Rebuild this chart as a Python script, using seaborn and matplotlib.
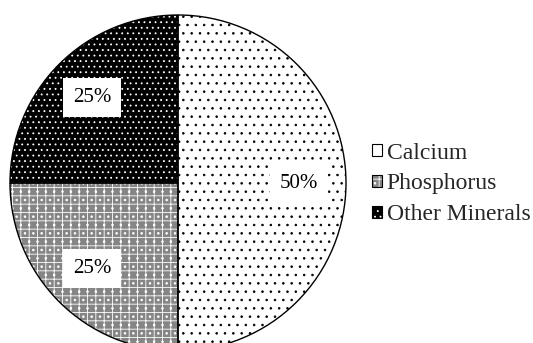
import matplotlib
matplotlib.use("Agg")
import matplotlib.pyplot as plt
from matplotlib.patches import Patch
import seaborn as sns

# data
labels = ["Calcium", "Phosphorus", "Other Minerals"]
shares = [50, 25, 25]

# look of each slice: fill colour, hatch pattern, hatch colour
FACES = ["white", "#858585", "black"]
HATCHES = ["..", "++..", "..."]
HATCH_COLORS = ["black", "white", "white"]

sns.set_theme(style="white")
plt.rcParams["font.family"] = ["Liberation Serif", "DejaVu Serif"]
plt.rcParams["hatch.linewidth"] = 0.6

fig = plt.figure(figsize=(5.33, 3.43), dpi=100)
ax = fig.add_axes([10 / 533, -8 / 343, 336 / 533, 336 / 343])

# filled, hatched slices
wedges, _, pct_texts = ax.pie(
    shares, startangle=90, counterclock=False, radius=1.0,
    colors=FACES, autopct="%d%%", pctdistance=0.72,
    wedgeprops=dict(linewidth=0),
    textprops=dict(fontsize=15, color="black"),
)
for w, h, hc in zip(wedges, HATCHES, HATCH_COLORS):
    w.set_hatch(h)
    w.set_edgecolor(hc)

# every percentage sits on a white box
for t in pct_texts:
    t.set_bbox(dict(facecolor="white", edgecolor="none", pad=7))

# black outlines on top
outlines, _ = ax.pie(
    shares, startangle=90, counterclock=False, radius=1.0,
    wedgeprops=dict(fill=False, edgecolor="black", linewidth=1.0),
)

ax.set_xlim(-1.0, 1.0)
ax.set_ylim(-1.0, 1.0)
ax.axis("off")

handles = []
for fc, h, hc in zip(FACES, HATCHES, HATCH_COLORS):
    fill = Patch(facecolor=fc, edgecolor=hc, hatch=h if fc != "white" else None, linewidth=0)
    edge = Patch(facecolor="none", edgecolor="black", linewidth=0.8)
    handles.append((fill, edge))

fig.legend(handles, labels, loc="center left", bbox_to_anchor=(372 / 533, 1 - 184 / 343),
           frameon=False, fontsize=17, handlelength=0.42, handleheight=0.42,
           handletextpad=0.2, labelspacing=0.42, borderaxespad=0, borderpad=0)

plt.savefig("out.png", dpi=100, facecolor="white")
plt.close()
